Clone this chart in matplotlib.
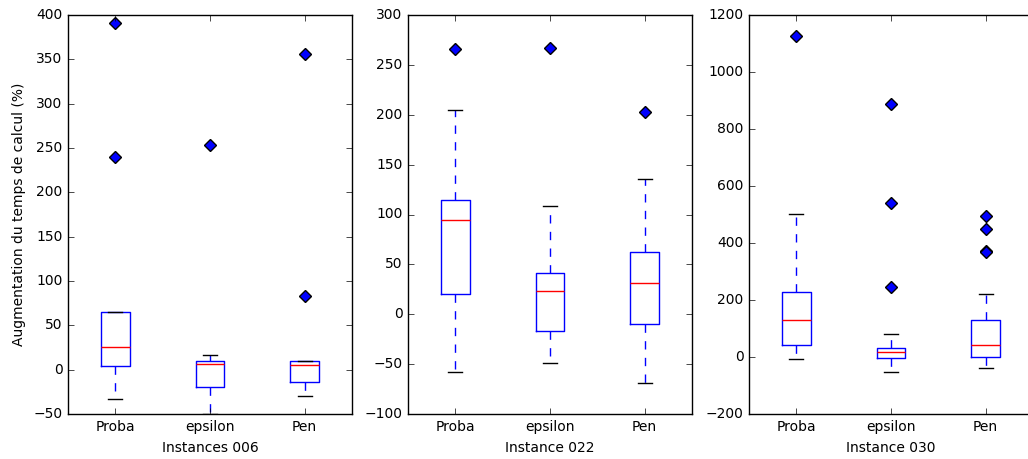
import numpy as np
import matplotlib
matplotlib.use('Agg')
import matplotlib.pyplot as plt

plt.style.use('classic')
plt.rcParams['font.family'] = ['DejaVu Sans']
plt.rcParams['font.size'] = 10

methods = ['Proba', 'epsilon', 'Pen']
instances = ['Instances 006', 'Instance 022', 'Instance 030']
ylims = [(-50, 400), (-100, 300), (-200, 1200)]

# box statistics: whislo, q1, med, q3, whishi, fliers
inst006 = [
    (-33, 4, 26, 65.5, 65.5, [391, 240]),
    (-49.5, -20, 6, 10, 17, [253]),
    (-30, -14, 5, 10.3, 10.3, [356, 83]),
]
inst022 = [
    (-58, 20.5, 94, 115, 205, [266]),
    (-49, -17, 23, 41, 109, [267]),
    (-69, -10, 31, 62, 136, [203]),
]
inst030 = [
    (-8, 42, 130, 229, 501, [1126]),
    (-54, -5, 16, 33, 81, [889, 542, 247]),
    (-40, 1, 42, 129, 221, [495, 450, 372, 369]),
]
all_stats = [inst006, inst022, inst030]

fig = plt.figure(figsize=(10.28, 4.59), dpi=100)
fig.patch.set_facecolor('white')
W, H = 1028.0, 459.0
lefts = [68, 408, 749]
width = 284
bottom = 1 - 414 / H
height = (414 - 15) / H

for i, stats in enumerate(all_stats):
    ax = fig.add_axes([lefts[i] / W, bottom, width / W, height])
    bx = []
    for lo, q1, med, q3, hi, fl in stats:
        bx.append({'whislo': lo, 'q1': q1, 'med': med, 'q3': q3,
                   'whishi': hi, 'fliers': fl})
    ax.bxp(bx, widths=0.3, showfliers=True,
           flierprops=dict(marker='D', markerfacecolor='b',
                           markeredgecolor='k', markersize=6.5, linestyle='none'))
    ax.set_xticklabels(methods)
    ax.set_ylim(*ylims[i])
    ax.set_xlabel(instances[i])
    if i == 0:
        ax.set_ylabel('Augmentation du temps de calcul (%)')
    if i == 2:
        # right edge of the last panel falls outside the figure
        ax.tick_params(axis='y', right=False)

fig.savefig('out.png', dpi=100, facecolor='white')
